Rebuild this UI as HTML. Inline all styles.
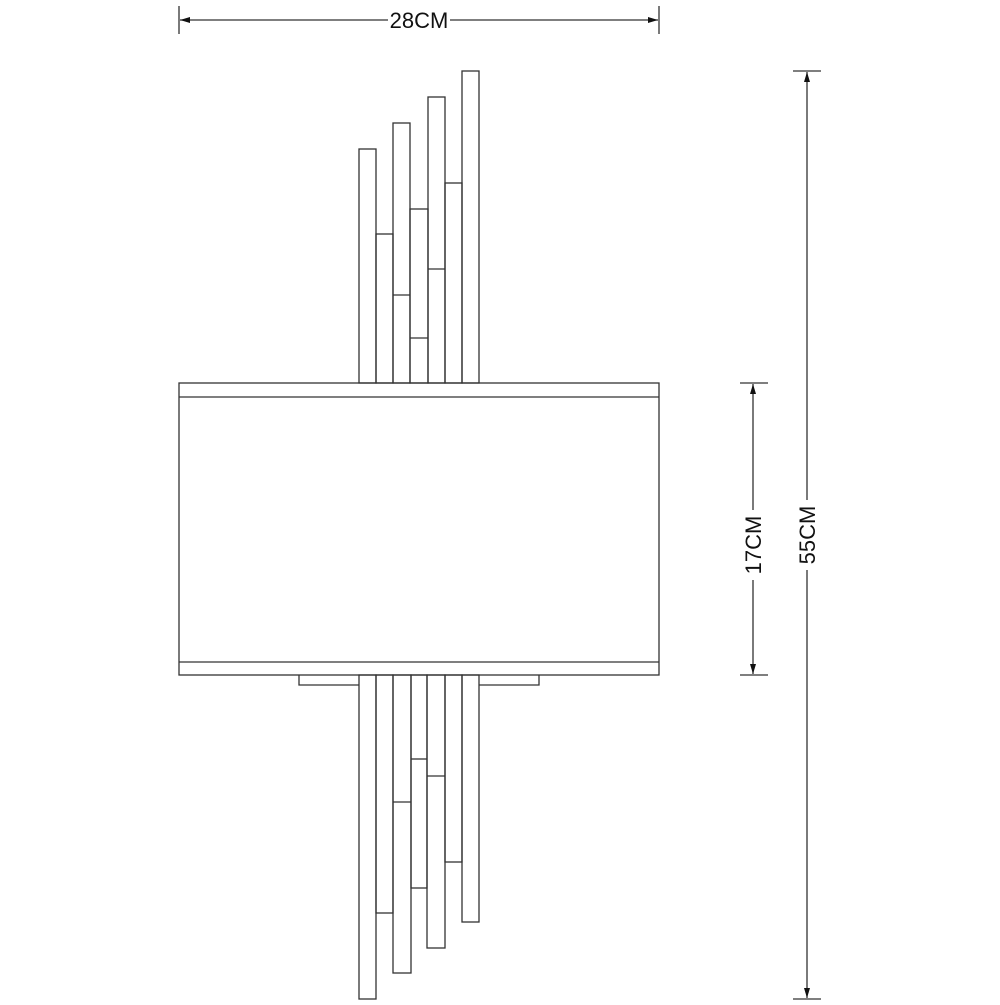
<!DOCTYPE html>
<html><head><style>body{margin:0;background:#fff}</style></head><body>
<svg width="1000" height="1000" xmlns="http://www.w3.org/2000/svg" font-family="Liberation Sans, sans-serif">
<defs><marker id="a" viewBox="0 0 10 6" refX="10" refY="3" markerWidth="10" markerHeight="6" orient="auto-start-reverse" markerUnits="userSpaceOnUse"><path d="M0,0 L10,3 L0,6 z" fill="#111"/></marker></defs>
<g stroke="#333" stroke-width="1.3" fill="none">
<line x1="179" y1="6" x2="179" y2="34"/><line x1="659" y1="6" x2="659" y2="34"/>
<line x1="180" y1="20" x2="388" y2="20" marker-start="url(#a)"/>
<line x1="450" y1="20" x2="658" y2="20" marker-end="url(#a)"/>
<line x1="740" y1="383" x2="768" y2="383"/><line x1="740" y1="675" x2="768" y2="675"/>
<line x1="753" y1="384" x2="753" y2="510" marker-start="url(#a)"/>
<line x1="753" y1="580" x2="753" y2="674" marker-end="url(#a)"/>
<line x1="793" y1="71" x2="821" y2="71"/><line x1="793" y1="999" x2="821" y2="999"/>
<line x1="807" y1="72" x2="807" y2="500" marker-start="url(#a)"/>
<line x1="807" y1="570" x2="807" y2="998" marker-end="url(#a)"/>
<rect x="179" y="383" width="480" height="292"/>
<line x1="179" y1="397" x2="659" y2="397"/>
<line x1="179" y1="662" x2="659" y2="662"/>
<rect x="359" y="149" width="17" height="234"/>
<rect x="376" y="234" width="17" height="149"/>
<rect x="393" y="123" width="17" height="260"/><line x1="393" y1="295" x2="410" y2="295"/>
<rect x="410" y="209" width="18" height="174"/><line x1="410" y1="338" x2="428" y2="338"/>
<rect x="428" y="97" width="17" height="286"/><line x1="428" y1="269" x2="445" y2="269"/>
<rect x="445" y="183" width="17" height="200"/>
<rect x="462" y="71" width="17" height="312"/>
<polyline points="299,675 299,685 359,685"/><polyline points="479,685 539,685 539,675"/>
<rect x="359" y="675" width="17" height="324"/>
<rect x="376" y="675" width="17" height="238"/>
<rect x="393" y="675" width="18" height="298"/><line x1="393" y1="802" x2="411" y2="802"/>
<rect x="411" y="675" width="16" height="213"/><line x1="411" y1="759" x2="427" y2="759"/>
<rect x="427" y="675" width="18" height="273"/><line x1="427" y1="776" x2="445" y2="776"/>
<rect x="445" y="675" width="17" height="187"/>
<rect x="462" y="675" width="17" height="247"/>
</g>
<g font-size="22" fill="#111" text-anchor="middle">
<text x="419" y="28">28CM</text>
<text transform="translate(761,545) rotate(-90)">17CM</text>
<text transform="translate(815,535) rotate(-90)">55CM</text>
</g>
</svg>
</body></html>
